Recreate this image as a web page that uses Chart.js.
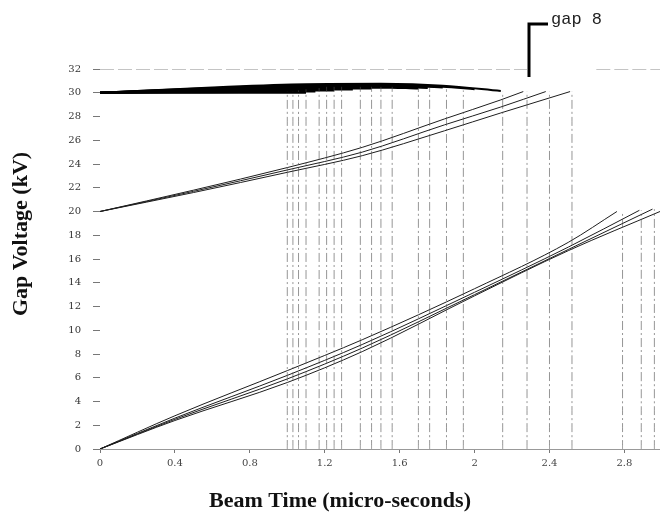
<!DOCTYPE html>
<html>
<head>
<meta charset="utf-8">
<script src="https://cdn.jsdelivr.net/npm/chart.js@4/dist/chart.umd.min.js"></script>
<style>
  body { margin: 0; background: #fff; }
</style>
</head>
<body>
<canvas id="myChart" width="660" height="512"></canvas>
<script>
// tick labels
const xTickLabels = [0, 0.4, 0.8, 1.2, 1.6, 2, 2.4, 2.8];
const yTickLabels = [0, 2, 4, 6, 8, 10, 12, 14, 16, 18, 20, 22, 24, 26, 28, 30, 32];

// lower ramps (start at 0 kV)
const lowRampT = [
  [0, 0.4, 1.0, 1.4, 2.0, 2.5, 2.76],
  [0, 0.4, 1.0, 1.4, 2.0, 2.5, 2.88],
  [0, 0.4, 1.0, 1.4, 2.0, 2.5, 2.95],
  [0, 0.4, 1.0, 1.4, 2.0, 2.5, 2.99]
];
const lowRampV = [
  [0, 2.8, 6.6, 9.2, 13.5, 17.4, 20.0],
  [0, 2.6, 6.2, 8.8, 13.2, 17.0, 20.1],
  [0, 2.5, 5.9, 8.5, 13.0, 16.8, 20.2],
  [0, 2.4, 5.6, 8.2, 12.9, 16.7, 20.0]
];

// middle ramps (start at 20 kV)
const midRampT = [
  [0, 0.5, 1.0, 1.4, 1.84, 2.14, 2.26],
  [0, 0.5, 1.0, 1.4, 1.84, 2.14, 2.38],
  [0, 0.5, 1.0, 1.4, 1.84, 2.14, 2.51]
];
const midRampV = [
  [20, 21.8, 23.7, 25.4, 27.8, 29.4, 30.1],
  [20, 21.7, 23.5, 25.0, 27.3, 28.8, 30.1],
  [20, 21.6, 23.3, 24.7, 26.8, 28.3, 30.1]
];

// upper lines (held near 30 kV)
const topT = [
  [0, 0.6, 1.1, 1.5, 1.83, 2.14],
  [0, 0.6, 1.1, 1.5, 1.83, 2.0],
  [0, 0.6, 1.1, 1.5, 1.83],
  [0, 0.6, 1.1, 1.5, 1.75],
  [0, 0.6, 1.1, 1.5, 1.7],
  [0, 0.6, 1.1, 1.45],
  [0, 0.6, 1.1, 1.35],
  [0, 0.6, 1.0, 1.25],
  [0, 0.6, 1.0, 1.15],
  [0, 1.0, 1.1]
];
const topV = [
  [30, 30.45, 30.72, 30.75, 30.6, 30.15],
  [30, 30.4, 30.65, 30.7, 30.5, 30.3],
  [30, 30.35, 30.58, 30.62, 30.45],
  [30, 30.3, 30.5, 30.55, 30.4],
  [30, 30.25, 30.42, 30.45, 30.35],
  [30, 30.2, 30.35, 30.35],
  [30, 30.15, 30.28, 30.28],
  [30, 30.1, 30.2, 30.2],
  [30, 30.05, 30.1, 30.1],
  [30, 30.0, 30.0]
];

// switching times (vertical drops)
const vertTimes = [1.00, 1.03, 1.06, 1.10, 1.17, 1.21, 1.25, 1.29, 1.39, 1.45, 1.50, 1.56,
  1.70, 1.76, 1.85, 1.94, 2.15, 2.28, 2.40, 2.52, 2.79, 2.89, 2.96];
const vertTops = [30.1, 30.1, 30.2, 30.3, 30.4, 30.5, 30.5, 30.5, 30.5, 30.5, 30.5, 30.5,
  30.4, 30.4, 30.3, 30.2, 30.1, 30.1, 30.1, 30.1, 20.0, 20.1, 20.2];

// dashed limit line
const limitT = [0, 2.28, null, 2.65, 2.99];
const limitV = [32, 32, null, 32, 32];

function toPoints(ts, vs) {
  return ts.map((t, i) => ({ x: t, y: vs[i] }));
}

const datasets = [];

// verticals first so the ramps sit on top
const vertPts = [];
vertTimes.forEach((t, i) => {
  vertPts.push({ x: t, y: 0 });
  vertPts.push({ x: t, y: vertTops[i] });
  vertPts.push({ x: t, y: null });
});
datasets.push({
  data: vertPts,
  borderColor: "rgba(80,80,80,0.6)",
  borderWidth: 1,
  borderDash: [9, 3, 2, 3],
  spanGaps: false,
  tension: 0
});

datasets.push({
  data: limitT.map((t, i) => ({ x: t, y: limitV[i] })),
  borderColor: "#8a8a8a",
  borderWidth: 1,
  borderDash: [14, 4],
  spanGaps: false,
  tension: 0
});

lowRampT.forEach((ts, i) => {
  datasets.push({ data: toPoints(ts, lowRampV[i]), borderColor: "#1e1e1e", borderWidth: 1 });
});
midRampT.forEach((ts, i) => {
  datasets.push({ data: toPoints(ts, midRampV[i]), borderColor: "#1e1e1e", borderWidth: 1 });
});
topT.forEach((ts, i) => {
  datasets.push({ data: toPoints(ts, topV[i]), borderColor: "#000", borderWidth: 2 });
});

const textPlugin = {
  id: "textPlugin",
  afterDraw(chart) {
    const ctx = chart.ctx;
    ctx.save();
    ctx.fillStyle = "#111";
    ctx.font = "bold 22px 'Liberation Serif'";
    ctx.textAlign = "center";
    ctx.textBaseline = "middle";
    ctx.fillText("Beam Time (micro-seconds)", 340, 501);

    ctx.translate(21, 234);
    ctx.rotate(-Math.PI / 2);
    ctx.fillText("Gap Voltage (kV)", 0, 0);
    ctx.restore();

    // gap 8 label with bracket
    ctx.save();
    ctx.strokeStyle = "#000";
    ctx.lineWidth = 3;
    ctx.beginPath();
    ctx.moveTo(529, 77);
    ctx.lineTo(529, 24);
    ctx.lineTo(548, 24);
    ctx.stroke();
    ctx.fillStyle = "#222";
    ctx.font = "17px 'Liberation Mono'";
    ctx.textAlign = "left";
    ctx.textBaseline = "middle";
    ctx.fillText("gap 8", 551, 19);
    ctx.restore();
  }
};

const ctx = document.getElementById("myChart");
const myChart = new Chart(ctx, {
  type: "line",
  data: { datasets: datasets },
  options: {
    responsive: false,
    animation: false,
    layout: { padding: { top: 69, right: 0, bottom: 0, left: 0 } },
    elements: { point: { radius: 0 }, line: { cubicInterpolationMode: "monotone" } },
    plugins: { legend: { display: false }, tooltip: { enabled: false } },
    scales: {
      x: {
        type: "linear",
        min: 0,
        max: 2.99,
        afterFit: (s) => { s.height = 63; },
        afterBuildTicks: (s) => {
          s.ticks = xTickLabels.map((v) => ({ value: v }));
        },
        ticks: {
          autoSkip: false,
          maxRotation: 0,
          padding: 4,
          color: "#444",
          font: { family: "DejaVu Serif", size: 10 },
          callback: (v) => String(Math.round(v * 10) / 10)
        },
        grid: { drawOnChartArea: false, tickLength: 4, color: "#777" },
        border: { display: true, color: "#999", dash: [2, 2] }
      },
      y: {
        min: 0,
        max: 32,
        afterFit: (s) => { s.width = 100; },
        afterBuildTicks: (s) => {
          s.ticks = yTickLabels.map((v) => ({ value: v }));
        },
        ticks: {
          autoSkip: false,
          padding: 12,
          color: "#333",
          font: { family: "DejaVu Serif", size: 10 }
        },
        grid: { drawOnChartArea: false, tickLength: 7, color: "#777" },
        border: { display: false }
      }
    }
  },
  plugins: [textPlugin]
});
</script>
</body>
</html>
